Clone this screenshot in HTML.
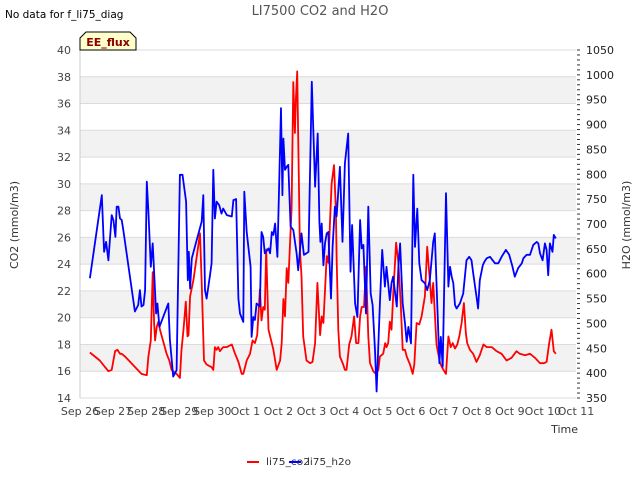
<!DOCTYPE html>
<html><head><meta charset="utf-8"><style>
body{margin:0;background:#fff;font-family:"Liberation Sans","DejaVu Sans",sans-serif}
svg text{font-family:"DejaVu Sans","Liberation Sans",sans-serif}
</style></head><body>
<svg id="chart" width="640" height="480" xmlns="http://www.w3.org/2000/svg">
<text x="5" y="18" font-size="10.5" fill="#000">No data for f_li75_diag</text>
<text x="320" y="15" font-size="13" fill="#555" text-anchor="middle">LI7500 CO2 and H2O</text>
<g id="bands"></g>
<g id="grid"></g>
<g id="yl"></g>
<g id="yr"></g>
<g id="xa"></g>
<g id="series"></g>
<g>
<path d="M80,50 L80,38 L86,32 L130,32 L136,38 L136,50 Z" fill="#ffffcc" stroke="#000" stroke-width="1"/>
<text x="108" y="46" font-size="11" font-weight="bold" fill="#8b0000" text-anchor="middle">EE_flux</text>
</g>
<text transform="translate(18,225) rotate(-90)" font-size="11" fill="#333" text-anchor="middle">CO2 (mmol/m3)</text>
<text transform="translate(630,225) rotate(-90)" font-size="11" fill="#333" text-anchor="middle">H2O (mmol/m3)</text>
<text x="578" y="433" font-size="11" fill="#333" text-anchor="end">Time</text>
<g><line x1="247" y1="462" x2="259" y2="462" stroke="#f00" stroke-width="2"/><text x="266" y="465" font-size="10" fill="#333" textLength="44" lengthAdjust="spacingAndGlyphs">li75_co2</text></g>
<g><line x1="289" y1="462" x2="301" y2="462" stroke="#00f" stroke-width="2"/><text x="307" y="465" font-size="10" fill="#333" textLength="44" lengthAdjust="spacingAndGlyphs">li75_h2o</text></g>
</svg>
<script>
const xTickLabels=["Sep 26","Sep 27","Sep 28","Sep 29","Sep 30","Oct 1","Oct 2","Oct 3","Oct 4","Oct 5","Oct 6","Oct 7","Oct 8","Oct 9","Oct 10","Oct 11"];
const leftTicks=[14,16,18,20,22,24,26,28,30,32,34,36,38,40];
const rightTicks=[350,400,450,500,550,600,650,700,750,800,850,900,950,1000,1050];
const h2oDays=[0.30,0.66,0.73,0.79,0.86,0.96,1.01,1.07,1.11,1.16,1.21,1.26,1.31,1.66,1.76,1.81,1.86,1.92,1.97,2.02,2.07,2.14,2.20,2.24,2.30,2.34,2.40,2.67,2.72,2.82,2.92,3.02,3.10,3.21,3.26,3.29,3.33,3.38,3.68,3.73,3.78,3.83,3.93,3.98,4.03,4.08,4.13,4.21,4.28,4.33,4.44,4.59,4.64,4.72,4.79,4.84,4.94,4.97,5.04,5.16,5.19,5.24,5.29,5.34,5.44,5.49,5.54,5.59,5.70,5.75,5.80,5.85,5.90,5.97,6.08,6.12,6.15,6.20,6.25,6.30,6.37,6.45,6.55,6.60,6.70,6.77,6.85,6.91,7.01,7.11,7.19,7.24,7.27,7.31,7.36,7.41,7.46,7.51,7.59,7.64,7.71,7.76,7.86,7.94,8.01,8.11,8.18,8.23,8.32,8.39,8.47,8.52,8.57,8.65,8.72,8.79,8.85,8.92,8.97,9.07,9.14,9.22,9.27,9.37,9.42,9.47,9.58,9.63,9.68,9.76,9.83,9.88,9.93,10.01,10.08,10.13,10.20,10.26,10.33,10.43,10.50,10.58,10.68,10.73,10.78,10.87,10.91,10.97,11.07,11.14,11.19,11.24,11.29,11.34,11.39,11.49,11.59,11.69,11.77,11.84,11.89,11.99,12.04,12.09,12.18,12.23,12.30,12.40,12.48,12.55,12.65,12.75,12.88,12.98,13.08,13.15,13.25,13.36,13.41,13.51,13.61,13.71,13.81,13.86,13.91,13.99,14.06,14.11,14.16,14.21,14.29,14.33,14.39];
const h2oValues=[591,758,644,664,627,718,708,674,735,735,711,708,688,524,537,567,534,537,567,785,725,614,661,604,520,540,493,540,467,393,406,799,799,745,587,644,570,631,705,758,567,550,597,621,809,711,745,738,721,731,718,715,748,750,550,520,503,765,684,614,473,513,507,540,534,684,674,641,651,641,684,678,701,634,933,758,872,809,815,819,695,688,641,607,681,638,641,644,986,775,882,705,664,701,617,661,681,684,550,654,735,715,815,664,822,882,604,698,540,513,708,651,658,520,735,560,537,446,363,540,648,574,614,547,581,594,534,614,661,540,500,463,493,460,799,654,731,621,587,581,567,587,664,681,581,420,473,413,762,574,614,594,581,537,530,540,560,627,634,627,601,554,530,587,617,624,631,634,627,621,621,634,648,638,614,594,611,621,631,638,638,658,664,661,641,627,661,648,597,661,644,678,671];
const co2Days=[0.30,0.60,0.76,0.86,0.96,1.06,1.13,1.21,1.26,1.36,1.71,1.86,2.02,2.07,2.14,2.20,2.24,2.27,2.32,2.37,2.42,2.62,2.70,2.77,2.92,3.02,3.07,3.13,3.20,3.25,3.28,3.33,3.43,3.63,3.68,3.75,3.83,3.98,4.03,4.08,4.13,4.18,4.23,4.33,4.44,4.59,4.69,4.79,4.89,4.94,5.04,5.14,5.22,5.29,5.36,5.44,5.49,5.54,5.59,5.63,5.70,5.80,5.85,5.95,6.05,6.10,6.15,6.20,6.25,6.30,6.40,6.45,6.50,6.53,6.57,6.60,6.65,6.70,6.75,6.85,6.96,7.03,7.11,7.18,7.26,7.31,7.36,7.46,7.51,7.61,7.68,7.74,7.76,7.81,7.86,7.96,8.01,8.06,8.14,8.21,8.29,8.35,8.42,8.47,8.52,8.59,8.65,8.72,8.77,8.87,8.95,9.02,9.07,9.17,9.23,9.27,9.32,9.37,9.42,9.48,9.56,9.63,9.70,9.76,9.83,9.88,9.98,10.06,10.11,10.18,10.26,10.33,10.43,10.50,10.58,10.63,10.68,10.78,10.89,10.99,11.07,11.14,11.21,11.27,11.34,11.41,11.47,11.54,11.61,11.67,11.71,11.79,11.89,11.99,12.09,12.20,12.30,12.45,12.60,12.75,12.90,13.05,13.20,13.30,13.46,13.61,13.76,13.91,14.03,14.11,14.19,14.26,14.33,14.39];
const co2Values=[17.4,16.8,16.3,16.0,16.1,17.5,17.6,17.3,17.3,17.1,16.2,15.8,15.7,17.1,18.3,23.4,19.6,18.3,19.3,19.7,19.1,17.3,16.8,16.1,15.8,15.5,17.6,19.1,21.2,18.6,18.7,21.6,22.8,26.3,22.6,16.8,16.5,16.3,16.1,17.8,17.6,17.8,17.5,17.8,17.8,18.0,17.3,16.7,15.8,15.8,16.8,17.3,18.3,18.1,18.7,22.1,19.8,20.8,20.6,25.1,19.1,18.1,17.6,16.1,16.8,18.1,21.4,20.1,23.7,22.6,28.2,37.6,33.8,36.3,38.4,33.5,25.1,23.1,18.6,16.8,16.6,16.7,18.1,22.6,18.7,20.1,19.6,24.6,24.1,30.0,31.4,28.0,24.6,19.1,17.1,16.5,16.1,16.1,18.0,18.6,20.1,18.1,18.1,20.1,20.8,20.8,23.8,18.6,16.6,16.0,15.8,16.1,17.1,17.3,18.1,17.8,18.1,19.7,19.1,22.1,25.6,24.1,21.1,17.6,17.6,17.1,16.5,15.8,16.5,19.6,19.5,20.1,21.6,25.3,22.8,21.1,22.6,18.0,16.6,16.1,15.8,18.6,17.8,18.1,17.7,18.0,18.6,19.6,21.1,18.8,18.1,17.6,17.3,16.7,17.2,18.0,17.8,17.8,17.5,17.3,16.8,17.0,17.5,17.3,17.2,17.3,17.0,16.6,16.6,16.7,18.1,19.1,17.5,17.3];

const NS="http://www.w3.org/2000/svg";
const X0=80,X1=576,YT=50,YB=398;
const xs=d=>X0+d*(X1-X0)/15;
const yL=v=>YB-(v-14)*(YB-YT)/26;
const yR=v=>YB-(v-350)*(YB-YT)/700;
function mk(tag,attrs,parent,txt){const e=document.createElementNS(NS,tag);for(const k in attrs)e.setAttribute(k,attrs[k]);if(txt!==undefined)e.textContent=txt;parent.appendChild(e);return e;}
const bands=document.getElementById('bands'),grid=document.getElementById('grid');
for(let v=16;v<40;v+=4){const r=mk('rect',{x:X0,y:yL(v+2),width:X1-X0,height:yL(v)-yL(v+2),fill:'#f2f2f2'},bands);

}
const yl=document.getElementById('yl');
leftTicks.forEach(v=>{const l=mk('line',{x1:X0,x2:X1,y1:yL(v),y2:yL(v),stroke:'#dcdcdc','stroke-width':1},grid);


const t=mk('text',{x:71,y:yL(v)+4,'font-size':11,fill:'#444','text-anchor':'end'},yl,String(v));

});
mk('line',{x1:X0,x2:X0,y1:YT,y2:YB,stroke:'#ccc','stroke-width':1},grid);
const yr=document.getElementById('yr');
for(let v=350;v<=1050;v+=10){mk('line',{x1:577,x2:580,y1:yR(v),y2:yR(v),stroke:'#333','stroke-width':1},yr);}
rightTicks.forEach(v=>{const t=mk('text',{x:586,y:yR(v)+4,'font-size':11,fill:'#222'},yr,String(v));

});
const xa=document.getElementById('xa');
xTickLabels.forEach((s,i)=>{const t=mk('text',{x:xs(i),y:415,'font-size':11,fill:'#444','text-anchor':'middle'},xa,s);

});
const ser=document.getElementById('series');
function line(days,vals,fy,color,name){const p=days.map((d,i)=>(i?'L':'M')+xs(d).toFixed(1)+','+fy(vals[i]).toFixed(1)).join('');
const e=mk('path',{d:p,fill:'none',stroke:color,'stroke-width':1.8,'stroke-linejoin':'round'},ser);

}
line(co2Days,co2Values,yL,'#f00','co2-line');
line(h2oDays,h2oValues,yR,'#00f','h2o-line');
</script>
</body></html>
